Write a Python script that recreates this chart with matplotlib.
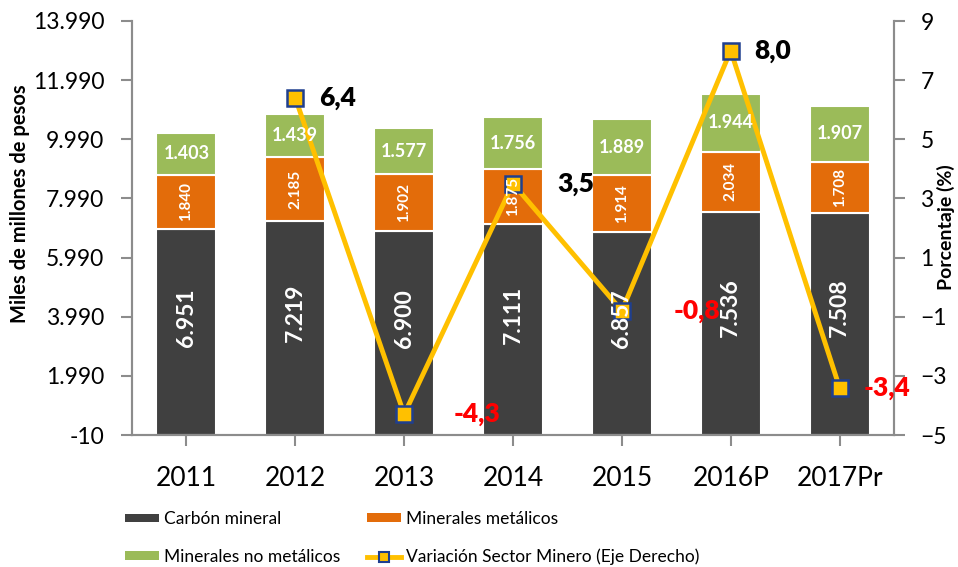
import matplotlib
matplotlib.use("Agg")
import matplotlib.pyplot as plt
import numpy as np
from matplotlib.patches import Patch
from matplotlib.lines import Line2D

plt.rcParams['font.family'] = ['Lato', 'DejaVu Sans']

years = ["2011", "2012", "2013", "2014", "2015", "2016P", "2017Pr"]
carbon = [6951, 7219, 6900, 7111, 6857, 7536, 7508]
metalicos = [1840, 2185, 1902, 1875, 1914, 2034, 1708]
no_metalicos = [1403, 1439, 1577, 1756, 1889, 1944, 1907]
variacion = [np.nan, 6.4, -4.3, 3.5, -0.8, 8.0, -3.4]
var_labels = ["", "6,4", "-4,3", "3,5", "-0,8", "8,0", "-3,4"]

left_ticks = [-10, 1990, 3990, 5990, 7990, 9990, 11990, 13990]
left_ticklabels = ["-10", "1.990", "3.990", "5.990", "7.990", "9.990", "11.990", "13.990"]
right_ticks = [-5, -3, -1, 1, 3, 5, 7, 9]

C_DARK = "#404040"
C_ORANGE = "#E36C0A"
C_GREEN = "#9BBB59"
C_GOLD = "#FFC000"
C_BLUE = "#1F3F8F"
C_AXIS = "#8C8C8C"

def fmt(v):
    return f"{v:,}".replace(",", ".")

W, H = 958, 567
fig = plt.figure(figsize=(W / 100, H / 100), dpi=100)
ax = fig.add_axes([132 / W, 1 - 435 / H, (894 - 132) / W, (435 - 21) / H])
ax2 = ax.twinx()

x = np.arange(len(years))
bw = 0.55
ax.bar(x, carbon, bw, color=C_DARK, edgecolor="white", linewidth=1.5, zorder=2)
ax.bar(x, metalicos, bw, bottom=carbon, color=C_ORANGE, edgecolor="white", linewidth=1.5, zorder=2)
bottom3 = np.array(carbon) + np.array(metalicos)
ax.bar(x, no_metalicos, bw, bottom=bottom3, color=C_GREEN, edgecolor="white", linewidth=1.5, zorder=2)

ax.set_xlim(-0.5, len(years) - 0.5)
ax.set_ylim(-10, 13990)
ax.set_yticks(left_ticks)
ax.set_yticklabels(left_ticklabels)
ax2.set_ylim(-5, 9)
ax2.set_yticks(right_ticks)
ax.set_xticks(x)
ax.set_xticklabels(years)

for a in (ax, ax2):
    a.spines["top"].set_visible(False)
    for s in ("left", "right", "bottom"):
        a.spines[s].set_color(C_AXIS)
        a.spines[s].set_linewidth(1.5)

ax.tick_params(axis="y", length=8, width=1.5, color=C_AXIS, labelsize=16.5, pad=12)
ax.tick_params(axis="x", length=8, width=1.5, color=C_AXIS, labelsize=19, pad=14)
ax2.tick_params(axis="y", length=8, width=1.5, color=C_AXIS, labelsize=16.5, pad=11)

# line on right axis
ax2.plot(x, variacion, color=C_GOLD, lw=3.5, marker="s", ms=12, mfc=C_GOLD,
         mec=C_BLUE, mew=1.8, zorder=3)
offsets = [0, 42, 73, 63, 75, 42, 47]
for xi, v, lab in zip(x, variacion, var_labels):
    if not lab:
        continue
    col = "black" if v >= 0 else "#FF0000"
    ax2.annotate(lab, (xi, v), xytext=(offsets[xi], 0), textcoords="offset pixels",
                 ha="center", va="center", fontsize=19, fontweight="heavy",
                 color=col, zorder=5)

# bar labels (drawn above the line)
for xi in x:
    c = carbon[xi]; m = metalicos[xi]; n = no_metalicos[xi]
    t1 = ax.text(xi, c * 0.57, fmt(c), rotation=90, ha="center", va="center",
                 color="white", fontsize=16.5, fontweight="bold")
    t2 = ax.text(xi, c + m / 2, fmt(m), rotation=90, ha="center", va="center",
                 color="white", fontsize=11, fontweight="bold")
    t3 = ax.text(xi, c + m + n / 2, fmt(n), ha="center", va="center",
                 color="white", fontsize=13, fontweight="bold")
    for t in (t1, t2, t3):
        t.remove()
        t.set_transform(ax.transData)
        fig.add_artist(t)
        t.set_zorder(10)

fig.text(20 / W, 1 - 204 / H, "Miles de millones de pesos", rotation=90,
         ha="center", va="center", fontsize=14.5, fontweight="bold")
fig.text(946 / W, 1 - 227 / H, "Porcentaje (%)", rotation=90,
         ha="center", va="center", fontsize=14, fontweight="bold")

# legends
h_carbon = Patch(facecolor=C_DARK, edgecolor="none")
h_met = Patch(facecolor=C_ORANGE, edgecolor="none")
h_nomet = Patch(facecolor=C_GREEN, edgecolor="none")
h_var = Line2D([], [], color=C_GOLD, lw=3.5, marker="s", ms=7, mfc=C_GOLD, mec=C_BLUE, mew=1.5)

common = dict(frameon=False, fontsize=12.5, handlelength=1.95, handleheight=0.4,
              handletextpad=0.3, labelspacing=1.25, borderaxespad=0, borderpad=0)
fig.legend([h_carbon, h_nomet], ["Carbón mineral", "Minerales no metálicos"],
           loc="center left", bbox_to_anchor=(125 / W, 1 - 538 / H), **common)
fig.legend([h_met, h_var], ["Minerales metálicos", "Variación Sector Minero (Eje Derecho)"],
           loc="center left", bbox_to_anchor=(367 / W, 1 - 538 / H), **common)

fig.savefig("out.png", dpi=100)
